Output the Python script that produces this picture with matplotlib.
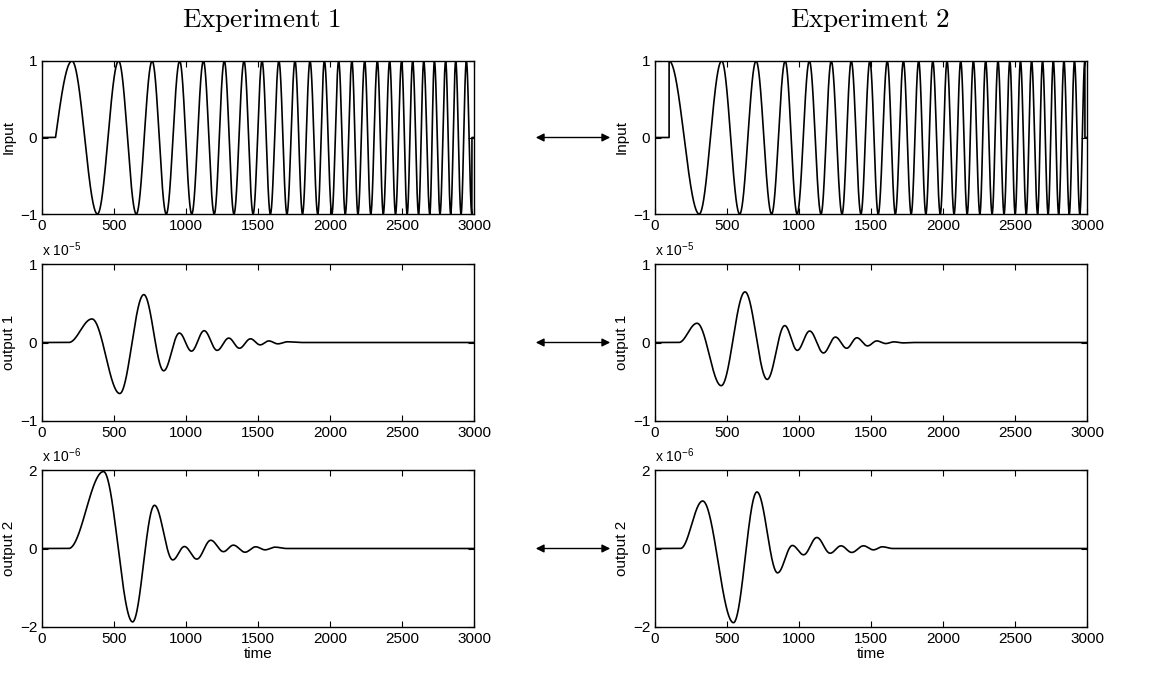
import numpy as np
import matplotlib
matplotlib.use('Agg')
import matplotlib.pyplot as plt
from matplotlib.patches import FancyArrowPatch

plt.rcParams['font.family'] = ['Liberation Sans', 'DejaVu Sans']
plt.rcParams['mathtext.fontset'] = 'cm'

# --- data ---
# input chirps: time of the start and of each extremum (peak, trough, peak, ...)
in1_start = 94
in1_extrema = [208, 385, 532, 655, 765, 863, 956, 1040, 1121, 1196, 1266, 1333,
               1403, 1466, 1528, 1586, 1645, 1701, 1757, 1809, 1861, 1915, 1961, 2013,
               2060, 2106, 2152, 2194, 2241, 2283, 2329, 2370, 2414, 2455, 2497, 2536,
               2574, 2615, 2651, 2693, 2725, 2764, 2803, 2838, 2873, 2910, 2947, 2985]
# experiment 2 jumps straight to a peak
in2_extrema = [98, 307, 463, 588, 702, 810, 904, 987, 1072, 1153, 1224, 1299,
               1363, 1430, 1492, 1550, 1613, 1669, 1725, 1779, 1831, 1881, 1929, 1981,
               2028, 2077, 2123, 2168, 2211, 2256, 2296, 2341, 2382, 2424, 2464, 2501,
               2538, 2578, 2615, 2657, 2691, 2730, 2766, 2803, 2840, 2877, 2913, 2950, 2985]

# outputs: (time, value) of onset, extrema and settling point
out1_exp1_t = [185, 347, 540, 707, 845, 954, 1038, 1126, 1216, 1297, 1371, 1448, 1515, 1575, 1638, 1703, 1800]
out1_exp1_v = [0, 0.30, -0.65, 0.61, -0.36, 0.12, -0.11, 0.15, -0.10, 0.056, -0.073, 0.047, -0.03, 0.02, -0.017, 0.009, 0]
out1_exp2_t = [165, 292, 460, 625, 779, 901, 988, 1074, 1170, 1253, 1331, 1402, 1476, 1540, 1602, 1660, 1724, 1800]
out1_exp2_v = [0, 0.245, -0.55, 0.645, -0.47, 0.215, -0.10, 0.146, -0.133, 0.069, -0.073, 0.06, -0.043, 0.02, -0.013, 0.008, -0.005, 0]
out2_exp1_t = [185, 427, 629, 781, 908, 989, 1075, 1172, 1260, 1329, 1410, 1484, 1549, 1618, 1700]
out2_exp1_v = [0, 1.96, -1.87, 1.10, -0.29, 0.05, -0.27, 0.21, -0.08, 0.085, -0.094, 0.043, -0.034, 0.034, 0]
out2_exp2_t = [177, 331, 545, 708, 851, 954, 1032, 1124, 1216, 1292, 1366, 1448, 1517, 1579, 1650]
out2_exp2_v = [0, 1.21, -1.89, 1.44, -0.62, 0.077, -0.16, 0.28, -0.12, 0.068, -0.10, 0.068, -0.034, 0.043, 0]

xticks = [0, 500, 1000, 1500, 2000, 2500, 3000]
titles = ['Experiment 1', 'Experiment 2']
ylabels = ['Input', 'output 1', 'output 2']
scales = [None, '-5', '-6']
ylims = [1, 1, 2]

t = np.linspace(0, 3000, 30001)


def chirp_curve(knots, phases):
    # sine whose phase goes through the read extremum times
    y = np.sin(np.interp(t, knots, phases))
    y[(t < knots[0]) | (t > knots[-1])] = 0
    return y


def smooth_curve(kt, kv):
    # half-cosine blend between consecutive read points
    kt = np.asarray(kt, float)
    kv = np.asarray(kv, float)
    idx = np.clip(np.searchsorted(kt, t, side='right') - 1, 0, len(kt) - 2)
    s = np.clip((t - kt[idx]) / (kt[idx + 1] - kt[idx]), 0, 1)
    y = kv[idx] + (kv[idx + 1] - kv[idx]) * (1 - np.cos(np.pi * s)) / 2
    y[(t < kt[0]) | (t > kt[-1])] = 0
    return y


ph1 = np.concatenate([[0.0], np.pi / 2 + np.pi * np.arange(len(in1_extrema))])
ph2 = np.pi / 2 + np.pi * np.arange(len(in2_extrema))

curves = [
    [chirp_curve([in1_start] + in1_extrema, ph1), chirp_curve(in2_extrema, ph2)],
    [smooth_curve(out1_exp1_t, out1_exp1_v), smooth_curve(out1_exp2_t, out1_exp2_v)],
    [smooth_curve(out2_exp1_t, out2_exp1_v), smooth_curve(out2_exp2_t, out2_exp2_v)],
]

W, H = 1157, 674
fig = plt.figure(figsize=(W / 100, H / 100), dpi=100)

col_left = [42, 655]
ax_w = 432
rows = [(61, 214), (264, 421), (470, 627)]

for r in range(3):
    top, bot = rows[r]
    for c in range(2):
        ax = fig.add_axes([col_left[c] / W, 1 - bot / H, ax_w / W, (bot - top) / H])
        ax.plot(t, curves[r][c], color='black', lw=1.2)
        ax.set_xlim(0, 3000)
        ax.set_ylim(-ylims[r], ylims[r])
        ax.set_xticks(xticks)
        ax.set_yticks([-ylims[r], 0, ylims[r]])
        ax.tick_params(direction='in', top=True, right=True, labelsize=11, length=4, width=0.8)
        for sp in ax.spines.values():
            sp.set_linewidth(1.0)
        ax.set_ylabel(ylabels[r], fontsize=11, labelpad=3)
        if scales[r] is not None:
            ax.text(0, 1.03, r'x 10$^{\mathregular{%s}}$' % scales[r], transform=ax.transAxes,
                    ha='left', va='bottom', fontsize=10)
        if r == 2:
            ax.set_xlabel('time', fontsize=11, labelpad=1)

    # double arrow between the two columns at the zero line
    yz = 1 - (top + bot) / 2 / H
    arr = FancyArrowPatch((533 / W, yz), (613 / W, yz), transform=fig.transFigure,
                          arrowstyle='<|-|>', mutation_scale=12, lw=1.0, color='black')
    fig.add_artist(arr)

fig.text(262 / W, 1 - 20 / H, r'$\mathrm{%s}$' % titles[0].replace(' ', '\\ '),
         ha='center', va='center', fontsize=19.5)
fig.text(870 / W, 1 - 20 / H, r'$\mathrm{%s}$' % titles[1].replace(' ', '\\ '),
         ha='center', va='center', fontsize=19.5)

fig.savefig('out.png', dpi=100)
